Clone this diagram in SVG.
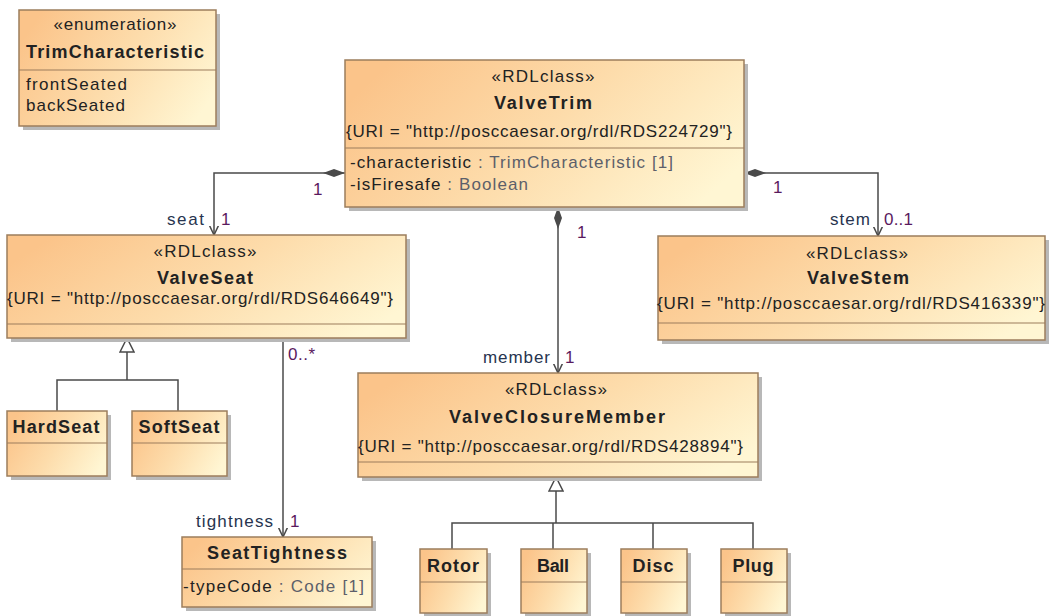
<svg xmlns="http://www.w3.org/2000/svg" width="1051" height="616" viewBox="0 0 1051 616">
<style>
text{font-family:"Liberation Sans",Arial,sans-serif;font-size:17px;fill:#222}
.b{font-weight:bold;font-size:18px;text-anchor:middle}
.st{text-anchor:middle}
.ty{fill:#5c5f6a}
.m{fill:#5a1a5e}
.r{fill:#27344f}
.box{fill:url(#g);stroke:#9c7d5c;stroke-width:1.5}
.sh{fill:#b8b8b8}
.dv{stroke:#9c7d5c;stroke-width:1.2}
.c{fill:none;stroke:#4a4a4a;stroke-width:1.5}
</style>
<defs>
<linearGradient id="g" x1="0" y1="0.3" x2="1" y2="0.7">
<stop offset="0" stop-color="#fbc48a"/>
<stop offset="0.5" stop-color="#fddcab"/>
<stop offset="1" stop-color="#fff6d3"/>
</linearGradient>
<marker id="dia" viewBox="0 0 22 8" refX="0" refY="4" markerWidth="22" markerHeight="8" markerUnits="userSpaceOnUse" orient="auto">
<path d="M0,4 L11,0 L22,4 L11,8 Z" fill="#4a4a4a"/>
</marker>
<marker id="arr" viewBox="0 0 10 10" refX="9.5" refY="5" markerWidth="10" markerHeight="10" markerUnits="userSpaceOnUse" orient="auto">
<path d="M0,0.5 L9.5,5 L0,9.5" fill="none" stroke="#4a4a4a" stroke-width="1.5"/>
</marker>
<marker id="gen" viewBox="0 0 16 16" refX="15" refY="8" markerWidth="16" markerHeight="16" markerUnits="userSpaceOnUse" orient="auto">
<path d="M1,1 L15,8 L1,15 Z" fill="#fff" stroke="#4a4a4a" stroke-width="1.5"/>
</marker>
</defs>

<g id="connectors">
<path class="c" d="M345,173 H214 V235" marker-start="url(#dia)" marker-end="url(#arr)"/>
<path class="c" d="M744,173 H878 V236" marker-start="url(#dia)" marker-end="url(#arr)"/>
<path class="c" d="M558,207 V373" marker-start="url(#dia)" marker-end="url(#arr)"/>
<path class="c" d="M283,338 V537" marker-end="url(#arr)"/>
<path class="c" d="M57,411 V380 H178 V411"/>
<path class="c" d="M127,380 V338" marker-end="url(#gen)"/>
<path class="c" d="M452,549 V523 H753 V549 M553,523 V549 M653,523 V549"/>
<path class="c" d="M556,523 V477" marker-end="url(#gen)"/>
<text class="m" x="313" y="195">1</text>
<text class="r" x="167" y="225" textLength="37" lengthAdjust="spacing">seat</text>
<text class="m" x="221" y="225">1</text>
<text class="m" x="773" y="193">1</text>
<text class="r" x="830" y="225" textLength="40" lengthAdjust="spacing">stem</text>
<text class="m" x="884" y="225" textLength="29" lengthAdjust="spacing">0..1</text>
<text class="m" x="577" y="238">1</text>
<text class="r" x="483" y="363" textLength="67" lengthAdjust="spacing">member</text>
<text class="m" x="565" y="363">1</text>
<text class="m" x="288" y="360" textLength="27" lengthAdjust="spacing">0..*</text>
<text class="r" x="196" y="527" textLength="77" lengthAdjust="spacing">tightness</text>
<text class="m" x="290" y="527">1</text>
</g>

<g id="TrimCharacteristic">
<rect class="sh" x="23" y="14" width="197" height="116"/>
<rect class="box" x="19" y="10" width="197" height="116"/>
<line class="dv" x1="19" y1="70" x2="216" y2="70"/>
<text class="st" x="115" y="30" textLength="123" lengthAdjust="spacing">«enumeration»</text>
<text class="b" x="115" y="58" textLength="178" lengthAdjust="spacing">TrimCharacteristic</text>
<text x="26" y="90" textLength="101" lengthAdjust="spacing">frontSeated</text>
<text x="26" y="111" textLength="99" lengthAdjust="spacing">backSeated</text>
</g>

<g id="ValveTrim">
<rect class="sh" x="349" y="64" width="399" height="147"/>
<rect class="box" x="345" y="60" width="399" height="147"/>
<line class="dv" x1="345" y1="148" x2="744" y2="148"/>
<text class="st" x="543" y="82" textLength="103" lengthAdjust="spacing">«RDLclass»</text>
<text class="b" x="543" y="109" textLength="98" lengthAdjust="spacing">ValveTrim</text>
<text x="346" y="137" textLength="386" lengthAdjust="spacing">{URI = "http://posccaesar.org/rdl/RDS224729"}</text>
<text x="350" y="168" textLength="323" lengthAdjust="spacing">-characteristic<tspan class="ty"> : TrimCharacteristic [1]</tspan></text>
<text x="350" y="190" textLength="178" lengthAdjust="spacing">-isFiresafe<tspan class="ty"> : Boolean</tspan></text>
</g>

<g id="ValveSeat">
<rect class="sh" x="11" y="239" width="399" height="103"/>
<rect class="box" x="7" y="235" width="399" height="103"/>
<line class="dv" x1="7" y1="324" x2="406" y2="324"/>
<text class="st" x="205" y="257" textLength="103" lengthAdjust="spacing">«RDLclass»</text>
<text class="b" x="205" y="284" textLength="96" lengthAdjust="spacing">ValveSeat</text>
<text x="7" y="304" textLength="386" lengthAdjust="spacing">{URI = "http://posccaesar.org/rdl/RDS646649"}</text>
</g>

<g id="ValveStem">
<rect class="sh" x="662" y="240" width="387" height="104"/>
<rect class="box" x="658" y="236" width="387" height="104"/>
<line class="dv" x1="658" y1="323" x2="1045" y2="323"/>
<text class="st" x="857" y="259" textLength="102" lengthAdjust="spacing">«RDLclass»</text>
<text class="b" x="858" y="284" textLength="102" lengthAdjust="spacing">ValveStem</text>
<text x="657" y="309" textLength="388" lengthAdjust="spacing">{URI = "http://posccaesar.org/rdl/RDS416339"}</text>
</g>

<g id="ValveClosureMember">
<rect class="sh" x="362" y="377" width="400" height="104"/>
<rect class="box" x="358" y="373" width="400" height="104"/>
<line class="dv" x1="358" y1="462" x2="758" y2="462"/>
<text class="st" x="556" y="395" textLength="102" lengthAdjust="spacing">«RDLclass»</text>
<text class="b" x="557" y="423" textLength="216" lengthAdjust="spacing">ValveClosureMember</text>
<text x="358" y="452" textLength="385" lengthAdjust="spacing">{URI = "http://posccaesar.org/rdl/RDS428894"}</text>
</g>

<g id="HardSeat">
<rect class="sh" x="11" y="415" width="100" height="65"/>
<rect class="box" x="7" y="411" width="100" height="65"/>
<line class="dv" x1="7" y1="443" x2="107" y2="443"/>
<text class="b" x="56" y="433" textLength="87" lengthAdjust="spacing">HardSeat</text>
</g>

<g id="SoftSeat">
<rect class="sh" x="136" y="415" width="95" height="65"/>
<rect class="box" x="132" y="411" width="95" height="65"/>
<line class="dv" x1="132" y1="443" x2="227" y2="443"/>
<text class="b" x="179" y="433" textLength="81" lengthAdjust="spacing">SoftSeat</text>
</g>

<g id="SeatTightness">
<rect class="sh" x="186" y="541" width="190" height="70"/>
<rect class="box" x="182" y="537" width="190" height="70"/>
<line class="dv" x1="182" y1="569" x2="372" y2="569"/>
<text class="b" x="277" y="559" textLength="140" lengthAdjust="spacing">SeatTightness</text>
<text x="183" y="592" textLength="181" lengthAdjust="spacing">-typeCode<tspan class="ty"> : Code [1]</tspan></text>
</g>

<g id="Rotor">
<rect class="sh" x="424" y="553" width="67" height="64"/>
<rect class="box" x="420" y="549" width="67" height="64"/>
<line class="dv" x1="420" y1="582" x2="487" y2="582"/>
<text class="b" x="453" y="572" textLength="52" lengthAdjust="spacing">Rotor</text>
</g>

<g id="Ball">
<rect class="sh" x="525" y="553" width="66" height="64"/>
<rect class="box" x="521" y="549" width="66" height="64"/>
<line class="dv" x1="521" y1="582" x2="587" y2="582"/>
<text class="b" x="553" y="572" textLength="32" lengthAdjust="spacing">Ball</text>
</g>

<g id="Disc">
<rect class="sh" x="625" y="553" width="66" height="64"/>
<rect class="box" x="621" y="549" width="66" height="64"/>
<line class="dv" x1="621" y1="582" x2="687" y2="582"/>
<text class="b" x="653" y="572" textLength="41" lengthAdjust="spacing">Disc</text>
</g>

<g id="Plug">
<rect class="sh" x="725" y="553" width="66" height="64"/>
<rect class="box" x="721" y="549" width="66" height="64"/>
<line class="dv" x1="721" y1="582" x2="787" y2="582"/>
<text class="b" x="753" y="572" textLength="41" lengthAdjust="spacing">Plug</text>
</g>
</svg>
